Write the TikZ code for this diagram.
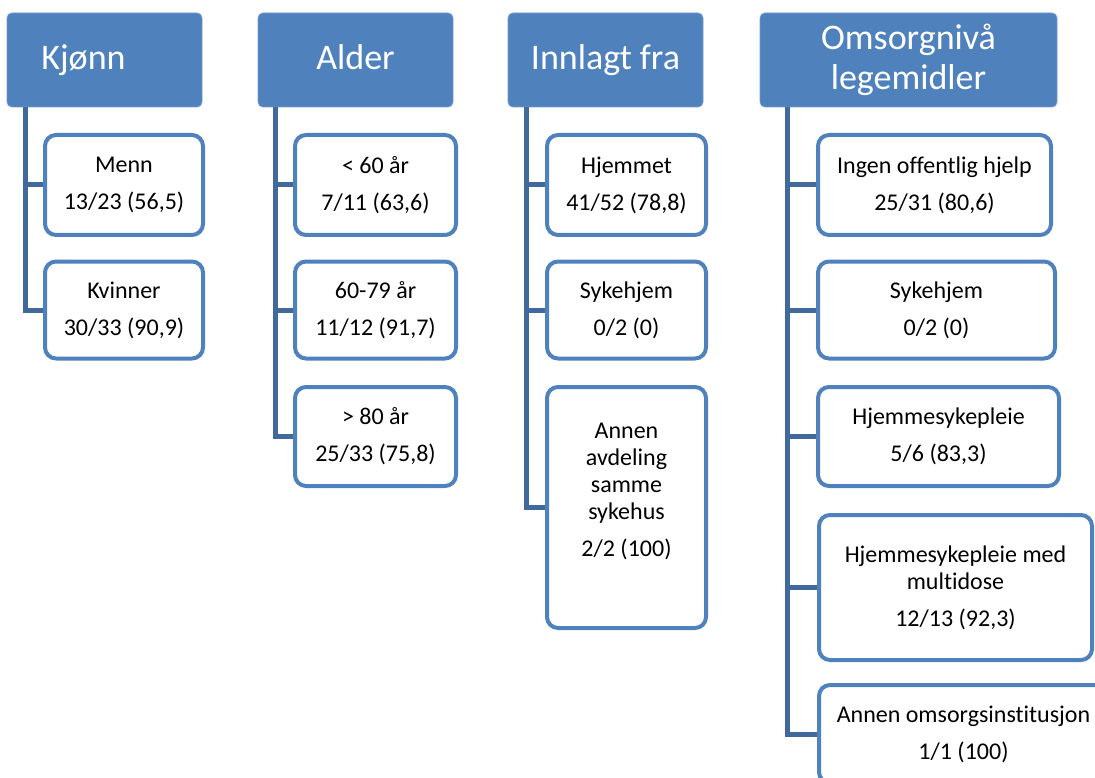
\documentclass[tikz,border=0pt]{standalone}
\usepackage{fontspec}
\setmainfont{Carlito}[Ligatures={NoCommon}]
\definecolor{hdrblue}{HTML}{4F81BD}
\definecolor{connblue}{HTML}{41699C}
\begin{document}
\begin{tikzpicture}[x=1pt,y=-1pt,
  hdr/.style={fill=hdrblue, draw=hdrblue!80!white, line width=0.8pt, rounded corners=5pt,
    text=white, align=center, inner sep=0pt, font=\fontsize{36}{40}\selectfont,
    minimum width=#1, minimum height=94},
  oneline/.style={text height=25pt, text depth=5pt},
  kid/.style={draw=hdrblue, fill=white, line width=4pt, rounded corners=11pt,
    align=center, inner sep=0pt, font=\fontsize{24}{27}\selectfont},
  kidtext/.style={align=center, inner sep=0pt, font=\fontsize{24}{27}\selectfont},
  conn/.style={draw=connblue, line width=5pt}]
\useasboundingbox (0,0) rectangle (1095,778);
\clip (0,0) rectangle (1095,778);

% headers
\node[hdr=195, oneline] (h1) at (104.5,60) {Kjønn\hspace*{42pt}};
\node[hdr=195, oneline] (h2) at (355.5,60) {Alder};
\node[hdr=195, oneline] (h3) at (605.5,60) {Innlagt fra};
\node[hdr=297] (h4) at (908.5,60) {Omsorgnivå\\legemidler};

% trunk coordinates
\coordinate (t1) at (h1.south -| 25,0);
\coordinate (t2) at (h2.south -| 275,0);
\coordinate (t3) at (h3.south -| 526,0);
\coordinate (t4) at (h4.south -| 787,0);

% Kjønn children
\node[kid, minimum width=158, minimum height=100] (k11) at (124,185) {Menn\\[10pt]13/23 (56,5)};
\node[kid, minimum width=158, minimum height=97] (k12) at (124,310) {Kvinner\\[10pt]30/33 (90,9)};

% Alder children
\node[kid, minimum width=161, minimum height=100] (k21) at (375.5,185) {< 60 år\\[10pt]7/11 (63,6)};
\node[kid, minimum width=161, minimum height=97] (k22) at (375.5,310) {60-79 år\\[10pt]11/12 (91,7)};
\node[kid, minimum width=161, minimum height=99] (k23) at (375.5,436.5) {> 80 år\\[10pt]25/33 (75,8)};

% Innlagt fra children
\node[kid, minimum width=159, minimum height=100] (k31) at (626.5,185) {Hjemmet\\[10pt]41/52 (78,8)};
\node[kid, minimum width=159, minimum height=97] (k32) at (626.5,310) {Sykehjem\\[10pt]0/2 (0)};
\node[kid, minimum width=159, minimum height=241] (k33) at (626.5,507.5) {};
\node[kidtext] (k33t) at ([yshift=16pt]k33.center) {Annen\\avdeling\\samme\\sykehus\\[10pt]2/2 (100)};

% Omsorgnivå children
\node[kid, minimum width=233, minimum height=100] (k41) at (934.5,185) {Ingen offentlig hjelp\\[10pt]25/31 (80,6)};
\node[kid, minimum width=237, minimum height=97] (k42) at (936.5,310) {Sykehjem\\[10pt]0/2 (0)};
\node[kid, minimum width=241, minimum height=99] (k43) at (938.5,436.5) {Hjemmesykepleie\\[10pt]5/6 (83,3)};
\node[kid, minimum width=273, minimum height=145] (k44) at (955.5,587.5) {Hjemmesykepleie med\\multidose\\[10pt]12/13 (92,3)};
\node[kid, minimum width=289, minimum height=98] (k45) at (963.5,734) {Annen omsorgsinstitusjon\\[10pt]1/1 (100)};

% connectors
\draw[conn] (t1) |- (k11.west);
\draw[conn] (t1) |- (k12.west);
\draw[conn] (t2) |- (k21.west);
\draw[conn] (t2) |- (k22.west);
\draw[conn] (t2) |- (k23.west);
\draw[conn] (t3) |- (k31.west);
\draw[conn] (t3) |- (k32.west);
\draw[conn] (t3) |- (k33.west);
\draw[conn] (t4) |- (k41.west);
\draw[conn] (t4) |- (k42.west);
\draw[conn] (t4) |- (k43.west);
\draw[conn] (t4) |- (k44.west);
\draw[conn] (t4) |- (k45.west);
\end{tikzpicture}
\end{document}
